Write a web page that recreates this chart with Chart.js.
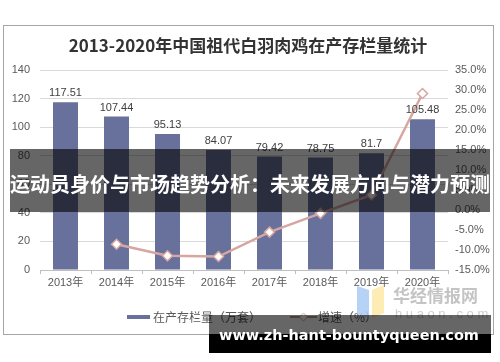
<!DOCTYPE html>
<html><head><meta charset="utf-8">
<script src="https://cdn.jsdelivr.net/npm/chart.js@4"></script>
<style>html,body{margin:0;padding:0;background:#fff;}canvas{display:block;}</style>
</head><body>
<canvas id="c" width="500" height="362"></canvas>
<script>
const categories = ['2013年','2014年','2015年','2016年','2017年','2018年','2019年','2020年'];
const stock = [117.51,107.44,95.13,84.07,79.42,78.75,81.7,105.48];
const growth = [null,-8.57,-11.46,-11.63,-5.53,-0.84,3.74,29.11];
const leftMin = 0, leftMax = 140, leftStep = 20;
const rightMin = -15, rightMax = 35, rightStep = 5;
const titleText = '2013-2020年中国祖代白羽肉鸡在产存栏量统计';
const bannerText = '运动员身价与市场趋势分析：未来发展方向与潜力预测';
const urlText = 'www.zh-hant-bountyqueen.com';

const BAR = '#67719b', LINE = '#d6a6a0', TXT = '#595959';
const SANS = "'Liberation Sans','Noto Sans CJK SC',sans-serif";
const CJK = "'Noto Sans CJK SC','Liberation Sans',sans-serif";
Chart.defaults.font.family = SANS;

const overlay = {
  id: 'overlay',
  afterDatasetsDraw(chart) {
    const ctx = chart.ctx;
    const meta = chart.getDatasetMeta(0);
    ctx.save();
    ctx.font = "11px " + SANS;
    ctx.fillStyle = '#404040';
    ctx.textAlign = 'center';
    ctx.textBaseline = 'alphabetic';
    meta.data.forEach((b, i) => {
      ctx.fillText(String(stock[i]), b.x, b.y - 6);
    });
    ctx.restore();
  },
  afterDraw(chart) {
    const ctx = chart.ctx;
    ctx.save();
    // frame
    ctx.strokeStyle = '#a6a6a6'; ctx.lineWidth = 1;
    ctx.strokeRect(3.5, 25.5, 490, 309);
    // title
    ctx.fillStyle = '#333';
    ctx.font = "bold 17px " + CJK;
    ctx.textAlign = 'center'; ctx.textBaseline = 'middle';
    ctx.fillText(titleText, 248, 46);
    // legend
    ctx.font = "12px " + CJK;
    ctx.textAlign = 'left';
    ctx.fillStyle = BAR;
    ctx.fillRect(127, 315, 23, 4);
    ctx.fillStyle = TXT;
    ctx.fillText(chart.data.datasets[0].label, 153, 317);
    ctx.strokeStyle = '#a07a75'; ctx.lineWidth = 1.5;
    ctx.beginPath(); ctx.moveTo(290, 317); ctx.lineTo(317, 317); ctx.stroke();
    ctx.fillStyle = '#fff'; ctx.strokeStyle = LINE; ctx.lineWidth = 1;
    ctx.beginPath(); ctx.moveTo(303.5, 313); ctx.lineTo(307.5, 317); ctx.lineTo(303.5, 321); ctx.lineTo(299.5, 317); ctx.closePath(); ctx.fill(); ctx.stroke();
    ctx.fillStyle = TXT;
    ctx.fillText(chart.data.datasets[1].label, 318, 317);
    // watermark logo
    ctx.globalAlpha = 0.85;
    ctx.fillStyle = '#a9caf2';
    ctx.beginPath(); ctx.moveTo(357, 286); ctx.lineTo(369, 290); ctx.lineTo(369, 318); ctx.lineTo(357, 314); ctx.closePath(); ctx.fill();
    ctx.fillStyle = '#fde9a6';
    ctx.beginPath(); ctx.moveTo(372, 290); ctx.lineTo(384, 285); ctx.lineTo(384, 313); ctx.lineTo(372, 318); ctx.closePath(); ctx.fill();
    ctx.globalAlpha = 1;
    ctx.fillStyle = '#c4c4c4';
    ctx.font = "bold 17px " + CJK;
    ctx.textAlign = 'left';
    ctx.fillText('华经情报网', 393, 296);
    ctx.font = "13px " + SANS;
    ctx.fillStyle = '#cfcfcf';
    ctx.fillText('h u a o n . c o m', 395, 314);
    // banner
    ctx.fillStyle = 'rgba(0,0,0,0.6)';
    ctx.fillRect(10, 149, 480, 63);
    ctx.fillStyle = '#fff';
    ctx.font = "bold 20px " + CJK;
    ctx.textAlign = 'center';
    ctx.fillText(bannerText, 250, 184, 480);
    // url banner
    ctx.fillStyle = 'rgba(0,0,0,0.6)';
    ctx.fillRect(209, 315, 282, 19);
    ctx.fillStyle = '#000';
    ctx.fillRect(209, 334, 282, 19);
    ctx.font = "bold 20px 'DejaVu Sans',sans-serif";
    const w = ctx.measureText(urlText).width;
    const fs = 20 * 260 / w;
    ctx.font = "bold " + fs.toFixed(2) + "px 'DejaVu Sans',sans-serif";
    ctx.fillStyle = '#fff';
    ctx.fillText(urlText, 349, 336);
    ctx.restore();
  }
};

new Chart(document.getElementById('c'), {
  type: 'bar',
  data: {
    labels: categories,
    datasets: [
      { type: 'bar', label: '在产存栏量（万套）', data: stock, backgroundColor: BAR, yAxisID: 'y',
        categoryPercentage: 1, barPercentage: 0.49, order: 2 },
      { type: 'line', label: '增速（%）', data: growth, yAxisID: 'y1', borderColor: LINE, borderWidth: 2.5,
        pointStyle: 'rectRot', pointRadius: 5, pointBackgroundColor: '#fff', pointBorderColor: LINE,
        pointBorderWidth: 1.5, order: 1, tension: 0 }
    ]
  },
  options: {
    responsive: false, animation: false, devicePixelRatio: 1,
    layout: { padding: { top: 70, bottom: 67, left: 0, right: 0 } },
    plugins: { legend: { display: false }, title: { display: false }, tooltip: { enabled: false } },
    scales: {
      x: {
        offset: true,
        grid: { display: true, drawOnChartArea: false, tickLength: 4, color: '#bfbfbf', offset: true },
        border: { color: '#bfbfbf' },
        ticks: { font: { size: 11 }, color: TXT, padding: 2 },
        afterFit(s) { s.height = 25; }
      },
      y: {
        position: 'left', min: leftMin, max: leftMax,
        ticks: { stepSize: leftStep, font: { size: 11 }, color: TXT, padding: 10 },
        grid: { color: '#d9d9d9', drawTicks: false },
        border: { display: false },
        afterFit(s) { s.width = 40; }
      },
      y1: {
        position: 'right', min: rightMin, max: rightMax,
        ticks: { stepSize: rightStep, font: { size: 11 }, color: TXT, padding: 7,
          callback: v => Number(v).toFixed(1) + '%' },
        grid: { display: false, drawTicks: false },
        border: { display: false },
        afterFit(s) { s.width = 52; }
      }
    }
  },
  plugins: [overlay]
});
</script>
</body></html>
